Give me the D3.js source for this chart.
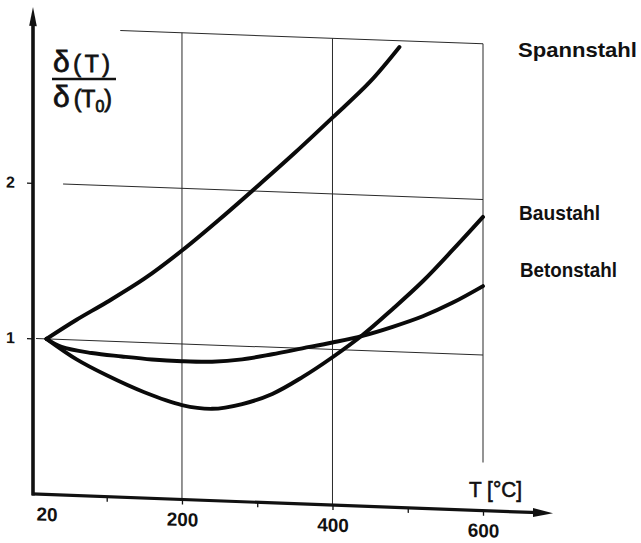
<!DOCTYPE html>
<html>
<head>
<meta charset="utf-8">
<script src="https://cdn.jsdelivr.net/npm/d3@7"></script>
<style>
  html, body { margin: 0; padding: 0; background: #fff; }
  svg { display: block; }
  text { font-family: "Liberation Sans", Arial, sans-serif; fill: #111; }
</style>
</head>
<body>
<svg id="chart" width="641" height="543"></svg>
<script>
// ---- data ----
const seriesNames = ["Spannstahl", "Baustahl", "Betonstahl"];

const spannT = [20, 60, 100, 150, 200, 250, 300, 350, 400, 450, 489];
const spannV = [1.0, 1.13, 1.25, 1.41, 1.60, 1.81, 2.03, 2.255, 2.49, 2.73, 2.96];

const bauT = [20, 60, 100, 150, 200, 240, 280, 320, 360, 400, 440, 480, 520, 560, 600];
const bauV = [1.0, 0.875, 0.78, 0.68, 0.607, 0.59, 0.628, 0.70, 0.815, 0.95, 1.10, 1.275, 1.46, 1.67, 1.888];

const betonT = [20, 40, 80, 120, 160, 200, 240, 280, 320, 360, 400, 440, 480, 520, 560, 600];
const betonV = [1.0, 0.952, 0.92, 0.905, 0.893, 0.889, 0.893, 0.915, 0.955, 1.0, 1.045, 1.095, 1.16, 1.235, 1.33, 1.443];

const xTicks = [20, 100, 200, 300, 400, 500, 600];
const xTickLabels = [20, 200, 400, 600];
const yTicks = [1, 2];
const yGrid = [1, 2, 3];
const xGrid = [200, 400, 600];

// ---- layout ----
const svg = d3.select("#chart");
const axisX0 = 33;
const x = d3.scaleLinear().domain([20, 600]).range([46.5, 483]);
const y = d3.scaleLinear().domain([0, 3]).range([494, 27.2]);
const skew = Math.atan(0.037) * 180 / Math.PI;

const g = svg.append("g")
  .attr("transform", `translate(${axisX0},0) skewY(${skew}) translate(${-axisX0},0)`);

// grid lines (thin)
const gridStroke = "#2a2a2a";
const hStart = {1: axisX0 + 3, 2: x(42), 3: x(118)};
g.selectAll(".hgrid").data(yGrid).enter().append("line")
  .attr("x1", d => hStart[d]).attr("x2", x(600))
  .attr("y1", d => y(d)).attr("y2", d => y(d))
  .attr("stroke", gridStroke).attr("stroke-width", 1);

const vEnd = {200: y(0), 400: y(0), 600: y(0.31)};
g.selectAll(".vgrid").data(xGrid).enter().append("line")
  .attr("x1", d => x(d)).attr("x2", d => x(d))
  .attr("y1", y(3)).attr("y2", d => vEnd[d])
  .attr("stroke", gridStroke).attr("stroke-width", 1);

// x axis via d3
const xAxis = d3.axisBottom(x)
  .tickValues(xTicks)
  .tickSize(5)
  .tickPadding(8)
  .tickFormat(d => xTickLabels.includes(d) ? String(d) : "");
const xa = g.append("g").attr("transform", `translate(0,${y(0)})`).call(xAxis);
xa.select(".domain").remove();
xa.selectAll(".tick line").attr("stroke", "#111").attr("stroke-width", 1.3)
  .filter(d => d === 20).remove();
xa.selectAll(".tick text")
  .style("font-family", "'Liberation Sans', Arial, sans-serif")
  .style("font-size", "19px").style("font-weight", "bold").attr("fill", "#111");

// y axis via d3
const yAxis = d3.axisLeft(y).tickValues(yTicks).tickSize(6).tickPadding(12).tickFormat(d3.format("d"));
const ya = g.append("g").attr("transform", `translate(${axisX0},0)`).call(yAxis);
ya.select(".domain").remove();
ya.selectAll(".tick line").attr("stroke", "#111").attr("stroke-width", 1.3);
ya.selectAll(".tick text")
  .style("font-family", "'Liberation Sans', Arial, sans-serif")
  .style("font-size", "16px").style("font-weight", "bold").attr("fill", "#111");

// axis lines with arrows
const xEnd = 553;
g.append("line").attr("x1", axisX0 - 1).attr("x2", xEnd - 14)
  .attr("y1", y(0)).attr("y2", y(0)).attr("stroke", "#111").attr("stroke-width", 3.2);
g.append("path")
  .attr("d", `M${xEnd},${y(0)} L${xEnd - 20},${y(0) - 4.5} L${xEnd - 20},${y(0) + 4.5} Z`)
  .attr("fill", "#111");
const yTop = 7;
g.append("line").attr("x1", axisX0).attr("x2", axisX0)
  .attr("y1", y(0) + 1.5).attr("y2", yTop + 14).attr("stroke", "#111").attr("stroke-width", 3.6);
g.append("path")
  .attr("d", `M${axisX0},${yTop} L${axisX0 - 3.8},${yTop + 19} L${axisX0 + 3.8},${yTop + 19} Z`)
  .attr("fill", "#111");

// curves
const line = d3.line().x(d => x(d[0])).y(d => y(d[1])).curve(d3.curveCatmullRom.alpha(0.5));
const series = [
  d3.zip(spannT, spannV),
  d3.zip(bauT, bauV),
  d3.zip(betonT, betonV)
];
g.selectAll(".curve").data(series).enter().append("path")
  .attr("d", line)
  .attr("fill", "none").attr("stroke", "#0a0a0a")
  .attr("stroke-width", 3.9).attr("stroke-linecap", "round").attr("stroke-linejoin", "round");

// series labels (right side)
const labelPos = [
  {x: 518, y: 57, w: 119},
  {x: 519, y: 220, w: 81},
  {x: 520, y: 277, w: 97}
];
svg.selectAll(".slabel").data(seriesNames).enter().append("text")
  .attr("x", (d, i) => labelPos[i].x).attr("y", (d, i) => labelPos[i].y)
  .attr("textLength", (d, i) => labelPos[i].w).attr("lengthAdjust", "spacingAndGlyphs")
  .style("font-size", "21px").style("font-weight", "bold")
  .text(d => d);

// x axis title
svg.append("text").attr("x", 469).attr("y", 497)
  .style("font-size", "22px")
  .attr("textLength", 53).attr("lengthAdjust", "spacingAndGlyphs")
  .attr("stroke", "#111").attr("stroke-width", 0.6)
  .text("T [°C]");

// y axis title: fraction δ(T) / δ(T0)
const num = svg.append("text").attr("x", 53).attr("y", 72)
  .attr("textLength", 57).attr("lengthAdjust", "spacing")
  .attr("stroke", "#111").attr("stroke-width", 0.8);
num.append("tspan").style("font-size", "30px").text("δ");
num.append("tspan").style("font-size", "23px").text("(T)");
svg.append("line").attr("x1", 52).attr("x2", 116).attr("y1", 79).attr("y2", 79)
  .attr("stroke", "#111").attr("stroke-width", 2.5);
const den = svg.append("text").attr("x", 53).attr("y", 107)
  .attr("stroke", "#111").attr("stroke-width", 0.8);
den.append("tspan").style("font-size", "30px").text("δ");
den.append("tspan").attr("dx", 4).style("font-size", "23px").text("(T");
den.append("tspan").attr("dy", 5).style("font-size", "16px").text("0");
den.append("tspan").attr("dy", -5).style("font-size", "23px").text(")");
</script>
</body>
</html>
